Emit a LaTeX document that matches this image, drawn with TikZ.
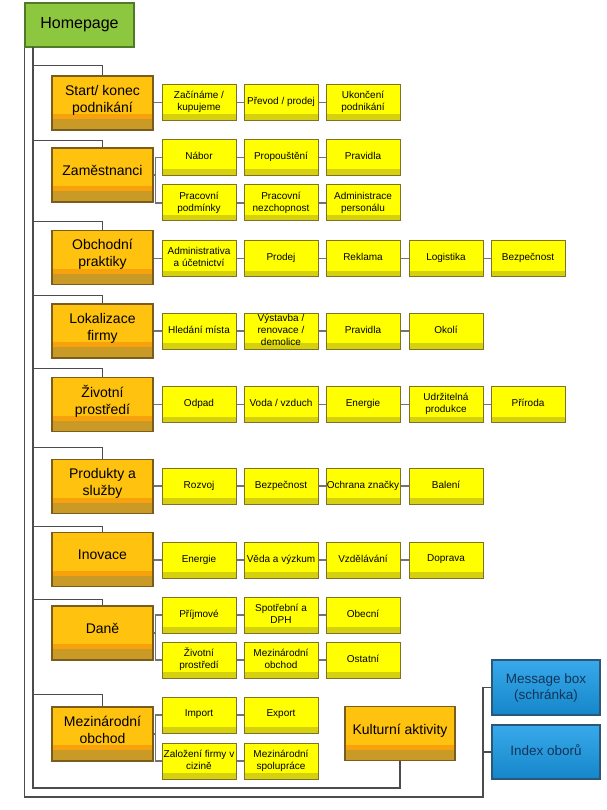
\documentclass[tikz,border=0pt]{standalone}
\usepackage{fontspec}
\setmainfont{Liberation Sans}
\usepackage{tikz}
\definecolor{homegreen}{HTML}{8DC63F}
\definecolor{homeline}{HTML}{4F7A26}
\definecolor{catgold}{HTML}{FFC20E}
\definecolor{catorange}{HTML}{F7A20C}
\definecolor{catbrown}{HTML}{C99A26}
\definecolor{catline}{HTML}{7A5C1E}
\definecolor{itemyellow}{HTML}{FFFF00}
\definecolor{itemband}{HTML}{D6D10E}
\definecolor{itemline}{HTML}{807126}
\definecolor{infotop}{HTML}{38A9EA}
\definecolor{infobottom}{HTML}{1586C9}
\definecolor{infoline}{HTML}{2B5879}
\definecolor{infotext}{HTML}{13345A}
\tikzset{
	homestyle/.style={rectangle,draw=homeline,line width=1.2pt,fill=homegreen,minimum width=109pt,minimum height=44pt,inner sep=0pt,font=\fontsize{16}{19}\selectfont},
	catstyle/.style={rectangle,draw=catline,line width=1.2pt,fill=catgold,minimum width=101pt,minimum height=54pt,inner sep=0pt,align=center,text depth=9pt,font=\fontsize{14}{17}\selectfont,
		path picture={\fill[catorange] (path picture bounding box.south west) rectangle ([yshift=16pt]path picture bounding box.south east);
			\fill[catbrown] (path picture bounding box.south west) rectangle ([yshift=11pt]path picture bounding box.south east);}},
	itemstyle/.style={rectangle,draw=itemline,line width=1pt,fill=itemyellow,minimum width=74pt,minimum height=36pt,inner sep=0pt,align=center,text depth=3pt,font=\fontsize{10}{12}\selectfont,
		path picture={\fill[itemband] (path picture bounding box.south west) rectangle ([yshift=6pt]path picture bounding box.south east);}},
	infostyle/.style={rectangle,draw=infoline,line width=1.2pt,top color=infotop,bottom color=infobottom,minimum width=108pt,minimum height=55pt,inner sep=0pt,align=center,text=infotext,font=\fontsize{13.5}{16}\selectfont},
	linkstyle/.style={draw=black!55,line width=1.1pt},
	framestyle/.style={draw=black!70,line width=1.1pt}
}
\begin{document}
\begin{tikzpicture}[x=1pt,y=-1pt]
	\path[use as bounding box,fill=white] (0,0) rectangle (606,810);
	% main boxes
	\node[homestyle] (home) at (79.5,25) {Homepage};
	\node[catstyle] (start) at (102.5,103) {Start/ konec\\podnikání};
	\node[catstyle] (zam) at (102.5,175) {Zaměstnanci};
	\node[catstyle] (obch) at (102.5,257.5) {Obchodní\\praktiky};
	\node[catstyle] (lok) at (102.5,331) {Lokalizace\\firmy};
	\node[catstyle] (ziv) at (102.5,404.5) {Životní\\prostředí};
	\node[catstyle] (prod) at (102.5,486.5) {Produkty a\\služby};
	\node[catstyle] (inov) at (102.5,559.5) {Inovace};
	\node[catstyle] (dane) at (102.5,633) {Daně};
	\node[catstyle] (mez) at (102.5,734) {Mezinárodní\\obchod};
	\node[catstyle,minimum width=110pt] (kult) at (400,733.5) {Kulturní aktivity};
	\node[infostyle] (msg) at (546,687.5) {Message box\\(schránka)};
	\node[infostyle,minimum height=54pt] (index) at (546,752) {\raisebox{4pt}{Index oborů}};
	% items
	\node[itemstyle] (start1) at (199,102.5) {Začínáme /\\kupujeme};
	\node[itemstyle] (start2) at (281,102.5) {Převod / prodej};
	\node[itemstyle] (start3) at (363,102.5) {Ukončení\\podnikání};
	\node[itemstyle] (zam1) at (199,157.5) {Nábor};
	\node[itemstyle] (zam2) at (281,157.5) {Propouštění};
	\node[itemstyle] (zam3) at (363,157.5) {Pravidla};
	\node[itemstyle] (zam4) at (199,203) {Pracovní\\podmínky};
	\node[itemstyle] (zam5) at (281,203) {Pracovní\\nezchopnost};
	\node[itemstyle] (zam6) at (363,203) {Administrace\\personálu};
	\node[itemstyle] (obch1) at (199,258.5) {Administrativa\\a účetnictví};
	\node[itemstyle] (obch2) at (281,258.5) {Prodej};
	\node[itemstyle] (obch3) at (363,258.5) {Reklama};
	\node[itemstyle] (obch4) at (446,258.5) {Logistika};
	\node[itemstyle] (obch5) at (528,258.5) {Bezpečnost};
	\node[itemstyle] (lok1) at (199,331) {Hledání místa};
	\node[itemstyle] (lok2) at (281,331) {Výstavba /\\renovace /\\demolice};
	\node[itemstyle] (lok3) at (363,331) {Pravidla};
	\node[itemstyle] (lok4) at (446,331) {Okolí};
	\node[itemstyle] (ziv1) at (199,404.5) {Odpad};
	\node[itemstyle] (ziv2) at (281,404.5) {Voda / vzduch};
	\node[itemstyle] (ziv3) at (363,404.5) {Energie};
	\node[itemstyle] (ziv4) at (446,404.5) {Udržitelná\\produkce};
	\node[itemstyle] (ziv5) at (528,404.5) {Příroda};
	\node[itemstyle] (prod1) at (199,486) {Rozvoj};
	\node[itemstyle] (prod2) at (281,486) {Bezpečnost};
	\node[itemstyle] (prod3) at (363,486) {Ochrana značky};
	\node[itemstyle] (prod4) at (446,486) {Balení};
	\node[itemstyle] (inov1) at (199,560) {Energie};
	\node[itemstyle] (inov2) at (281,560) {Věda a výzkum};
	\node[itemstyle] (inov3) at (363,560) {Vzdělávání};
	\node[itemstyle] (inov4) at (446,560) {Doprava};
	\node[itemstyle] (dane1) at (199,615) {Příjmové};
	\node[itemstyle] (dane2) at (281,615) {Spotřební a\\DPH};
	\node[itemstyle] (dane3) at (363,615) {Obecní};
	\node[itemstyle] (dane4) at (199,660) {Životní\\prostředí};
	\node[itemstyle] (dane5) at (281,660) {Mezinárodní\\obchod};
	\node[itemstyle] (dane6) at (363,660) {Ostatní};
	\node[itemstyle] (mez1) at (199,715) {Import};
	\node[itemstyle] (mez2) at (281,715) {Export};
	\node[itemstyle] (mez3) at (199,761) {Založení firmy v\\cizině};
	\node[itemstyle] (mez4) at (281,761) {Mezinárodní\\spolupráce};
	% frame lines
	\coordinate (spine) at (33,47);
	\coordinate (spineend) at (33,788);
	\coordinate (outer) at (483,797);
	\draw[framestyle] (home.south west) |- (outer) |- (msg.west);
	\draw[framestyle] (outer) |- (index.west);
	\draw[framestyle] (spine) -- (spineend) -| (kult.south);
	\foreach \c/\d in {start/10,zam/7,obch/8,lok/8,ziv/8,prod/11,inov/5,dane/6,mez/12}
		\draw[framestyle] (\c.north) -- ++(0,-\d) -| (spine);
	% links to items
	\draw[linkstyle] (start.east |- start1.west) -- (start1.west);
	\draw[linkstyle] (obch.east |- obch1.west) -- (obch1.west);
	\draw[linkstyle] (lok.east |- lok1.west) -- (lok1.west);
	\draw[linkstyle] (ziv.east |- ziv1.west) -- (ziv1.west);
	\draw[linkstyle] (prod.east |- prod1.west) -- (prod1.west);
	\draw[linkstyle] (inov.east |- inov1.west) -- (inov1.west);
	\draw[linkstyle] (zam.east) -- ++(2,0) |- (zam1.west);
	\draw[linkstyle] (zam.east) -- ++(2,0) |- (zam4.west);
	\draw[linkstyle] (dane.east) -- ++(2,0) |- (dane1.west);
	\draw[linkstyle] (dane.east) -- ++(2,0) |- (dane4.west);
	\draw[linkstyle] (mez.east) -- ++(2,0) |- (mez1.west);
	\draw[linkstyle] (mez.east) -- ++(2,0) |- (mez3.west);
	\foreach \a/\b in {start1/start2,start2/start3,zam1/zam2,zam2/zam3,zam4/zam5,zam5/zam6,
		obch1/obch2,obch2/obch3,obch3/obch4,obch4/obch5,lok1/lok2,lok2/lok3,lok3/lok4,
		ziv1/ziv2,ziv2/ziv3,ziv3/ziv4,ziv4/ziv5,prod1/prod2,prod2/prod3,prod3/prod4,
		inov1/inov2,inov2/inov3,inov3/inov4,dane1/dane2,dane2/dane3,dane4/dane5,dane5/dane6,
		mez1/mez2,mez3/mez4}
		\draw[linkstyle] (\a.east) -- (\b.west);
\end{tikzpicture}
\end{document}
